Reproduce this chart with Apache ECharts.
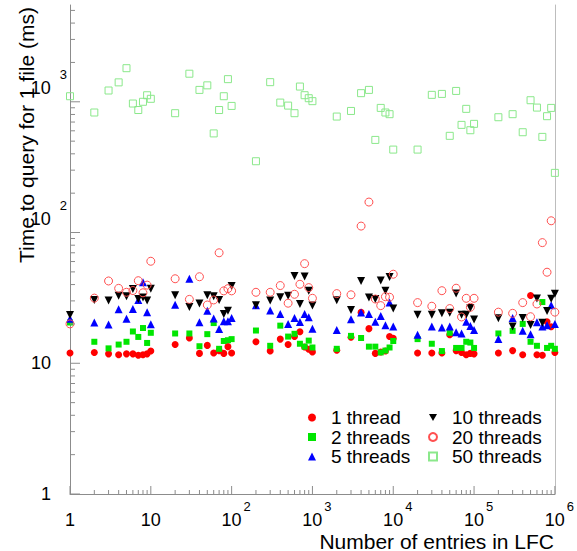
<!DOCTYPE html>
<html>
<head>
<meta charset="utf-8">
<title>Time to query for 1 file</title>
<script src="https://cdn.jsdelivr.net/npm/echarts@6/dist/echarts.min.js"></script>
<style>
  html, body { margin: 0; padding: 0; background: #fff; }
  #chart { width: 577px; height: 551px; }
</style>
</head>
<body>
<div id="chart"></div>
<script>
// x: number of entries in the LFC
var entries = [
  1, 2, 3, 4, 5, 6, 7, 8, 9,
  10, 20, 30, 40, 50, 60, 70, 80, 90,
  100, 200, 300, 400, 500, 600, 700, 800, 900,
  1000, 2000, 3000, 4000, 5000, 6000, 7000, 8000, 9000,
  10000, 20000, 30000, 40000, 50000, 60000, 70000, 80000, 90000,
  100000, 200000, 300000, 400000, 500000, 600000, 700000, 800000, 900000,
  1000000
];

// time to query for 1 file (ms), one list per thread count
var oneThread = [
  12.0, 12.1, 11.8, 11.6, 11.8, 11.8, 11.5, 11.6, 11.8,
  12.4, 13.9, 15.6, 11.9, 13.7, 12.0, 12.5, 11.9, 13.4,
  12.0, 14.6, 12.4, 15.3, 13.9, 16.0, 17.4, 13.3, 12.8,
  12.2, 12.6, 15.8, 24.5, 18.4, 11.9, 12.2, 12.4, 16.0,
  15.5, 12.0, 12.0, 12.0, 16.5, 12.5, 12.1, 11.6, 11.9,
  11.8, 12.0, 12.5, 11.6, 33.0, 11.6, 11.5, 20.8, 19.0,
  12.1
];
var twoThreads = [
  20.5, 14.6, 13.0, 13.9, 14.6, 17.5, 15.9, 18.6, 14.3,
  17.1, 16.9, 16.9, 13.5, 16.7, 20.3, 12.9, 14.8, 15.0,
  15.3, 17.8, 13.6, 19.4, 16.0, 16.8, 14.1, 13.4, 14.9,
  13.2, 12.9, 16.2, 15.6, 13.4, 13.4, 12.1, 12.5, 13.2,
  14.8, 15.3, 14.1, 12.4, 17.1, 13.1, 13.1, 14.6, 14.4,
  13.1, 16.9, 17.7, 20.0, 14.6, 13.6, 29.4, 13.1, 13.6,
  12.9
];
var fiveThreads = [
  21.9, 20.5, 19.8, 25.9, 21.9, 26.0, 30.5, 41.7, 24.6,
  19.9, 28.0, 44.3, 20.6, 25.2, 22.0, 18.3, 21.0, 21.0,
  22.2, 27.8, 25.3, 23.8, 20.0, 22.2, 20.7, 23.8, 22.5,
  18.4, 18.0, 21.7, 24.4, 23.8, 20.8, 23.0, 19.5, 29.1,
  19.1, 16.5, 19.1, 18.8, 19.1, 17.3, 16.9, 20.8, 19.3,
  18.0, 15.3, 22.2, 17.7, 16.7, 20.6, 19.1, 19.5, 27.8,
  20.0
];
var tenThreads = [
  23.4, 30.5, 30.2, 32.8, 32.6, 37.0, 31.0, 31.8, 30.2,
  37.2, 33.1, 26.9, 28.6, 33.1, 32.5, 30.5, 23.8, 25.2,
  39.0, 27.8, 30.2, 32.0, 32.9, 46.6, 28.4, 46.0, 35.8,
  27.6, 30.3, 25.6, 42.6, 31.8, 31.0, 43.0, 35.8, 45.7,
  26.2, 23.5, 23.5, 24.1, 24.3, 34.1, 23.5, 23.5, 26.5,
  21.6, 22.1, 19.1, 22.2, 19.6, 31.3, 20.4, 25.1, 31.1,
  34.0
];
var twentyThreads = [
  20.0, 31.5, 42.6, 37.4, 34.9, 36.0, 42.8, 34.6, 39.6,
  60.3, 44.3, 30.8, 45.9, 27.9, 30.5, 70.0, 35.8, 37.2,
  35.8, 34.9, 34.9, 39.3, 28.8, 33.7, 40.2, 57.8, 37.9,
  31.4, 34.1, 33.4, 112, 171, 31.0, 27.6, 32.3, 32.0,
  48.0, 29.1, 27.3, 35.9, 26.2, 37.5, 22.6, 31.4, 26.8,
  31.4, 24.6, 24.1, 29.1, 22.7, 28.4, 83.7, 49.7, 123,
  24.6
];
var fiftyThreads = [
  1103, 828, 1220, 1408, 1807, 970, 865, 1000, 1122,
  1054, 818, 1640, 1233, 1336, 573, 865, 1103, 1490,
  930, 351, 1413, 986, 935, 818, 1308, 1123, 1065,
  1011, 771, 851, 1164, 1233, 511, 898, 828, 804,
  431, 431, 1130, 1149, 549, 1211, 666, 883, 606,
  678, 762, 804, 585, 1028, 903, 539, 776, 898,
  286
];

var xMajor = [1, 10, 100, 1000, 10000, 100000, 1000000];
var yMajor = [1, 10, 100, 1000];

// minor ticks at 2..9 of every decade
function minorTicks(lo, hi) {
  var out = [];
  for (var p = lo; p < hi; p *= 10) {
    for (var k = 2; k <= 9; k++) {
      if (k * p <= hi) out.push(k * p);
    }
  }
  return out;
}

var FONT = 'Liberation Sans';
var Y_MAX = 5500;
var axisGray = '#8c8c8c';

function pairs(ys) {
  return entries.map(function (x, i) { return [x, ys[i]]; });
}

function expLabel(v) {
  var e = Math.round(Math.log10(v));
  if (e === 0) return '{n|1}';
  if (e === 1) return '{n|10}';
  return '{b|10}{s|' + e + '}';
}

// tick marks as thin rect symbols placed through the axes' own scales
function tickSeries(values, onX, len) {
  return {
    type: 'scatter', silent: true, clip: false, z: 3,
    data: values.map(function (v) { return onX ? [v, 1] : [1, v]; }),
    symbol: 'rect',
    symbolSize: onX ? [1, len] : [len, 1],
    symbolOffset: onX ? [0, -len / 2] : [len / 2, 0],
    itemStyle: { color: axisGray, opacity: 1 },
    emphasis: { disabled: true }
  };
}

var chart = echarts.init(document.getElementById('chart'), null, { renderer: 'svg' });

var legendText = { fontFamily: FONT, fontSize: 19, lineHeight: 19, color: '#000', padding: [0, 0, 0, 10] };

var option = {
  animation: false,
  backgroundColor: '#fff',
  grid: { left: 70, right: 22, top: 5, bottom: 57 },
  xAxis: {
    type: 'log', logBase: 10, min: 1, max: 1000000,
    axisLine: { show: true, lineStyle: { color: axisGray, width: 1 } },
    axisTick: { show: false },
    splitLine: { show: false },
    axisLabel: {
      customValues: xMajor,
      margin: 17,
      formatter: expLabel,
      color: '#000',
      rich: {
        n: { fontFamily: FONT, fontSize: 18, lineHeight: 18, color: '#000', verticalAlign: 'bottom' },
        b: { fontFamily: FONT, fontSize: 18, lineHeight: 18, color: '#000', padding: [0, 0, 0, 9], verticalAlign: 'bottom' },
        s: { fontFamily: FONT, fontSize: 13, lineHeight: 13, color: '#000', padding: [0, 0, 16, 2], verticalAlign: 'bottom' }
      }
    }
  },
  yAxis: [
    {
      type: 'log', logBase: 10, min: 1, max: Y_MAX, position: 'left',
      axisLine: { show: true, lineStyle: { color: axisGray, width: 1 } },
      axisTick: { show: false },
      splitLine: { show: false },
      axisLabel: {
        customValues: yMajor,
        margin: 3,
        formatter: expLabel,
        color: '#000',
        rich: {
          n: { fontFamily: FONT, fontSize: 18, lineHeight: 18, color: '#000', padding: [0, 16, 0, 0] },
          b: { fontFamily: FONT, fontSize: 18, lineHeight: 18, color: '#000', padding: [0, 0, 14, 0], verticalAlign: 'bottom' },
          s: { fontFamily: FONT, fontSize: 13, lineHeight: 13, color: '#000', padding: [0, 0, 30, 9], verticalAlign: 'bottom' }
        }
      }
    },
    {
      type: 'log', logBase: 10, min: 1, max: Y_MAX, position: 'right',
      axisLine: { show: true, lineStyle: { color: '#bdbdbd', width: 1 } },
      axisTick: { show: false },
      axisLabel: { show: false },
      splitLine: { show: false }
    }
  ],
  legend: [
    {
      orient: 'vertical', left: 308, top: 408, padding: 0,
      itemWidth: 8, itemHeight: 8, itemGap: 0.5,
      textStyle: legendText,
      data: ['1 thread', '2 threads', '5 threads']
    },
    {
      orient: 'vertical', left: 428, top: 408, padding: 0,
      itemWidth: 8, itemHeight: 8, itemGap: 0.5,
      textStyle: legendText,
      data: [
        { name: '10 threads', icon: 'path://M0,0 L10,0 L5,9 Z' },
        '20 threads',
        '50 threads'
      ]
    }
  ],
  graphic: [
    {
      type: 'text', x: 26, y: 7, rotation: Math.PI / 2,
      style: {
        text: 'Time to query for 1 file (ms)', fontFamily: FONT, fontSize: 21, fill: '#000',
        align: 'right', verticalAlign: 'middle', textAlign: 'right', textVerticalAlign: 'middle'
      }
    },
    {
      type: 'text', x: 554, y: 541,
      style: {
        text: 'Number of entries in LFC', fontFamily: FONT, fontSize: 21, fill: '#000',
        align: 'right', verticalAlign: 'middle', textAlign: 'right', textVerticalAlign: 'middle'
      }
    }
  ],
  series: [
    {
      name: '1 thread', type: 'scatter', data: pairs(oneThread),
      symbol: 'circle', symbolSize: 7,
      itemStyle: { color: '#ff0000', opacity: 1 }
    },
    {
      name: '2 threads', type: 'scatter', data: pairs(twoThreads),
      symbol: 'rect', symbolSize: 6,
      itemStyle: { color: '#00e600', opacity: 1 }
    },
    {
      name: '5 threads', type: 'scatter', data: pairs(fiveThreads),
      symbol: 'triangle', symbolSize: 8,
      itemStyle: { color: '#0000ff', opacity: 1 }
    },
    {
      name: '10 threads', type: 'scatter', data: pairs(tenThreads),
      symbol: 'triangle', symbolSize: 8, symbolRotate: 180,
      itemStyle: { color: '#000000', opacity: 1 }
    },
    {
      name: '20 threads', type: 'scatter', data: pairs(twentyThreads),
      symbol: 'circle', symbolSize: 8,
      itemStyle: { color: 'rgba(0,0,0,0)', borderColor: '#ff5050', borderWidth: 1, opacity: 1 }
    },
    {
      name: '50 threads', type: 'scatter', data: pairs(fiftyThreads),
      symbol: 'rect', symbolSize: 7,
      itemStyle: { color: 'rgba(0,0,0,0)', borderColor: '#8be88b', borderWidth: 1, opacity: 1 }
    },
    tickSeries(xMajor, true, 8),
    tickSeries(minorTicks(1, 1000000), true, 4),
    tickSeries(yMajor, false, 10),
    tickSeries(minorTicks(1, Y_MAX), false, 5)
  ]
};

chart.setOption(option);
</script>
</body>
</html>
